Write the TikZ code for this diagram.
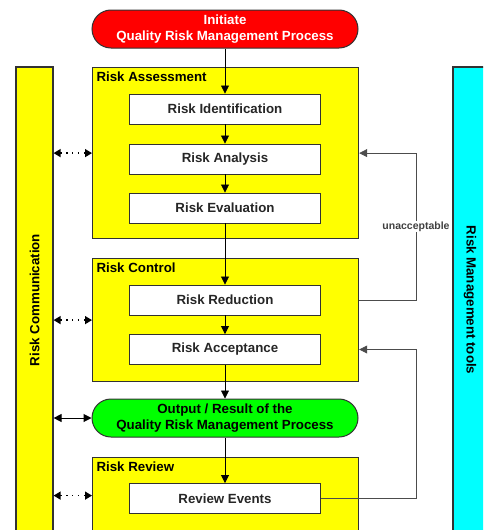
\documentclass[tikz,border=0pt]{standalone}
\usepackage{fontspec}
\setmainfont{Liberation Sans}
\usetikzlibrary{arrows.meta}
\definecolor{ryellow}{RGB}{255,255,0}
\definecolor{rred}{RGB}{255,0,0}
\definecolor{rgreen}{RGB}{0,255,0}
\definecolor{rcyan}{RGB}{0,255,255}
\definecolor{rline}{RGB}{50,50,50}
\begin{document}
\begin{tikzpicture}[x=1pt,y=-1pt,
  txt/.style={font=\fontsize{13.3}{15.5}\selectfont\bfseries},
  container/.style={draw=rline,line width=1.2pt,fill=ryellow,anchor=north west,inner sep=0pt},
  bar/.style={draw=rline,line width=1.2pt,inner sep=0pt},
  stepbox/.style={draw=rline,line width=0.9pt,fill=white,minimum width=191pt,minimum height=30pt,inner sep=0pt,txt,text=black!85},
  term/.style={draw=rline,line width=1pt,rounded corners=19pt,minimum width=266pt,minimum height=38pt,inner sep=0pt,txt,align=center},
  flow/.style={draw=black,line width=0.8pt,-{Triangle[length=8pt,width=8pt]}},
  fb/.style={draw=black!70,line width=0.8pt,-{Triangle[length=8pt,width=8pt]}},
  dots/.style={draw=black,line width=1.4pt,dash pattern=on 1.4pt off 4.5pt,{Triangle[length=7pt,width=8pt]}-{Triangle[length=7pt,width=8pt]}},
  both/.style={draw=black,line width=1pt,{Triangle[length=8pt,width=8pt]}-{Triangle[length=8pt,width=8pt]}}
]
\useasboundingbox (0,0) rectangle (483,530);
\begin{scope}
\clip (0,0) rectangle (483,530);
% side bars
\node[bar,fill=ryellow,minimum width=37pt,minimum height=466pt] (comm) at (34.5,300) {};
\node[txt,rotate=90] (commt) at (34.5,300) {Risk Communication};
\node[bar,fill=rcyan,minimum width=37pt,minimum height=466pt] (tools) at (471.5,300) {};
\node[txt,rotate=-90] (toolst) at (470,300) {Risk Management tools};
% containers
\node[container,minimum width=266pt,minimum height=171pt] (assess) at (92,67) {};
\node[txt,anchor=north west] (assesst) at (93,68.5) {Risk Assessment};
\node[container,minimum width=266pt,minimum height=123pt] (ctrl) at (92,258) {};
\node[txt,anchor=north west] (ctrlt) at (93,259.5) {Risk Control};
\node[container,minimum width=266pt,minimum height=76pt] (review) at (92,457) {};
\node[txt,anchor=north west] (reviewt) at (93,458.5) {Risk Review};
\end{scope}
% terminals
\node[term,fill=rred,text=white] (init) at (225,29) {Initiate\\Quality Risk Management Process};
\node[term,fill=rgreen] (out) at (225,418) {Output / Result of the\\Quality Risk Management Process};
% steps
\node[stepbox] (ident) at (225,109) {Risk Identification};
\node[stepbox] (anal) at (225,159) {Risk Analysis};
\node[stepbox] (eval) at (225,208) {Risk Evaluation};
\node[stepbox] (red) at (225,300) {Risk Reduction};
\node[stepbox] (acc) at (225,349.5) {Risk Acceptance};
\node[stepbox] (rev) at (225,498.5) {Review Events};
% main flow
\draw[flow] (init.south) -- (ident.north);
\draw[flow] (ident.south) -- (anal.north);
\draw[flow] (anal.south) -- (eval.north);
\draw[flow] (eval.south) -- (red.north);
\draw[flow] (red.south) -- (acc.north);
\draw[flow] (acc.south) -- (out.north);
\draw[flow] (out.south) -- (rev.north);
% feedback
\coordinate (fx) at (416,0);
\draw[fb] (ctrl.east |- red.east) -| (fx |- assess.east)
  node[pos=0.75,fill=white,inner sep=1pt,font=\fontsize{10.5}{12}\selectfont\bfseries,text=black!75] (unacc) {unacceptable}
  -- (assess.east);
\draw[fb] (rev.east) -| (fx |- acc.east) -- (ctrl.east |- acc.east);
% communication arrows
\draw[dots] (comm.east |- assess.west) -- (assess.west);
\draw[dots] (comm.east |- ctrl.west) -- (ctrl.west);
\draw[dots] (comm.east |- review.west) -- (review.west);
\draw[both] (comm.east |- out.west) -- (out.west);
\end{tikzpicture}
\end{document}
